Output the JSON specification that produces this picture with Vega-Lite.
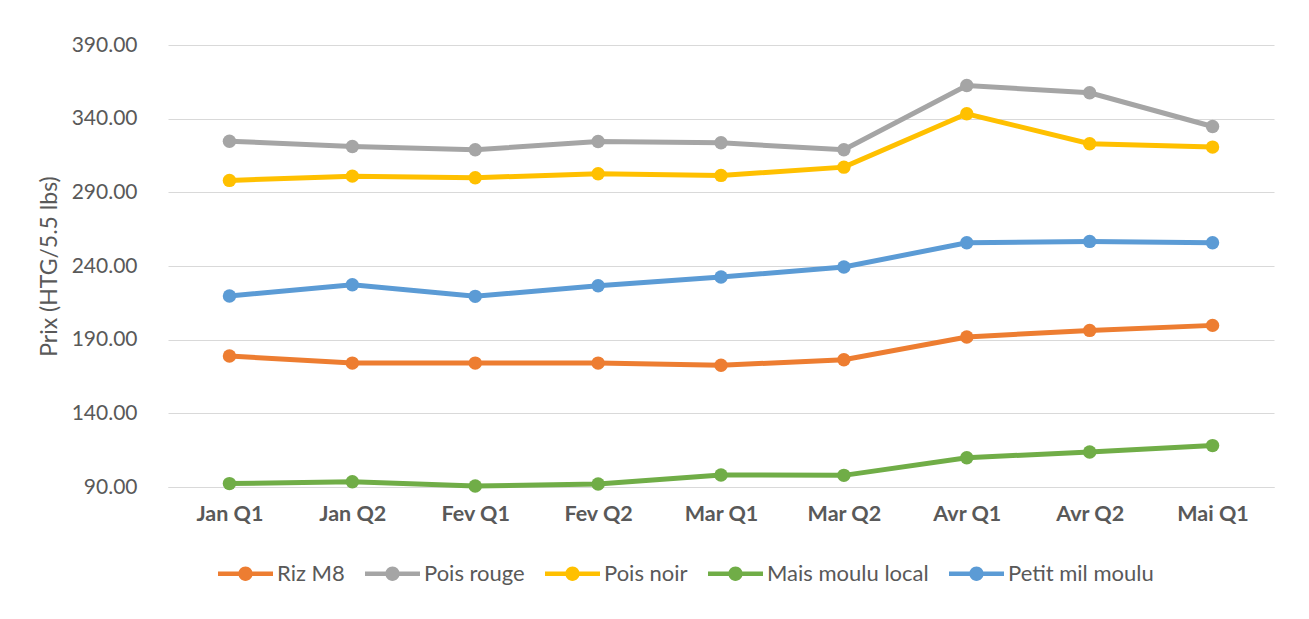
{
  "$schema": "https://vega.github.io/schema/vega-lite/v6.json",
  "width": 1106,
  "height": 442,
  "autosize": "none",
  "padding": {"left": 168, "top": 45, "right": 35, "bottom": 132},
  "background": "white",
  "config": {
    "view": {"stroke": null},
    "font": "Lato",
    "axis": {"labelFont": "Lato", "titleFont": "Lato", "labelColor": "#595959", "titleColor": "#595959"}
  },
  "data": {
    "values": [
      {"period": "Jan Q1", "produit": "Riz M8", "prix": 178.9},
      {"period": "Jan Q2", "produit": "Riz M8", "prix": 174.1},
      {"period": "Fev Q1", "produit": "Riz M8", "prix": 174.1},
      {"period": "Fev Q2", "produit": "Riz M8", "prix": 174.1},
      {"period": "Mar Q1", "produit": "Riz M8", "prix": 172.6},
      {"period": "Mar Q2", "produit": "Riz M8", "prix": 176.4},
      {"period": "Avr Q1", "produit": "Riz M8", "prix": 191.8},
      {"period": "Avr Q2", "produit": "Riz M8", "prix": 196.3},
      {"period": "Mai Q1", "produit": "Riz M8", "prix": 199.7},
      {"period": "Jan Q1", "produit": "Pois rouge", "prix": 324.7},
      {"period": "Jan Q2", "produit": "Pois rouge", "prix": 321.1},
      {"period": "Fev Q1", "produit": "Pois rouge", "prix": 318.9},
      {"period": "Fev Q2", "produit": "Pois rouge", "prix": 324.5},
      {"period": "Mar Q1", "produit": "Pois rouge", "prix": 323.6},
      {"period": "Mar Q2", "produit": "Pois rouge", "prix": 318.9},
      {"period": "Avr Q1", "produit": "Pois rouge", "prix": 362.5},
      {"period": "Avr Q2", "produit": "Pois rouge", "prix": 357.6},
      {"period": "Mai Q1", "produit": "Pois rouge", "prix": 334.7},
      {"period": "Jan Q1", "produit": "Pois noir", "prix": 298.1},
      {"period": "Jan Q2", "produit": "Pois noir", "prix": 301.0},
      {"period": "Fev Q1", "produit": "Pois noir", "prix": 299.9},
      {"period": "Fev Q2", "produit": "Pois noir", "prix": 302.6},
      {"period": "Mar Q1", "produit": "Pois noir", "prix": 301.5},
      {"period": "Mar Q2", "produit": "Pois noir", "prix": 307.1},
      {"period": "Avr Q1", "produit": "Pois noir", "prix": 343.3},
      {"period": "Avr Q2", "produit": "Pois noir", "prix": 323.0},
      {"period": "Mai Q1", "produit": "Pois noir", "prix": 320.7},
      {"period": "Jan Q1", "produit": "Mais moulu local", "prix": 92.3},
      {"period": "Jan Q2", "produit": "Mais moulu local", "prix": 93.6},
      {"period": "Fev Q1", "produit": "Mais moulu local", "prix": 90.7},
      {"period": "Fev Q2", "produit": "Mais moulu local", "prix": 92.0},
      {"period": "Mar Q1", "produit": "Mais moulu local", "prix": 98.2},
      {"period": "Mar Q2", "produit": "Mais moulu local", "prix": 97.9},
      {"period": "Avr Q1", "produit": "Mais moulu local", "prix": 109.9},
      {"period": "Avr Q2", "produit": "Mais moulu local", "prix": 113.7},
      {"period": "Mai Q1", "produit": "Mais moulu local", "prix": 118.1},
      {"period": "Jan Q1", "produit": "Petit mil moulu", "prix": 219.6},
      {"period": "Jan Q2", "produit": "Petit mil moulu", "prix": 227.3},
      {"period": "Fev Q1", "produit": "Petit mil moulu", "prix": 219.4},
      {"period": "Fev Q2", "produit": "Petit mil moulu", "prix": 226.6},
      {"period": "Mar Q1", "produit": "Petit mil moulu", "prix": 232.5},
      {"period": "Mar Q2", "produit": "Petit mil moulu", "prix": 239.3},
      {"period": "Avr Q1", "produit": "Petit mil moulu", "prix": 255.8},
      {"period": "Avr Q2", "produit": "Petit mil moulu", "prix": 256.7},
      {"period": "Mai Q1", "produit": "Petit mil moulu", "prix": 255.8}
    ]
  },
  "mark": {"type": "line", "strokeWidth": 5, "point": {"filled": true, "size": 180, "opacity": 1}},
  "encoding": {
    "x": {
      "field": "period",
      "type": "nominal",
      "sort": ["Jan Q1", "Jan Q2", "Fev Q1", "Fev Q2", "Mar Q1", "Mar Q2", "Avr Q1", "Avr Q2", "Mai Q1"],
      "scale": {"padding": 0.5},
      "axis": {
        "title": null,
        "labelAngle": 0,
        "labelFontSize": 21.5,
        "labelFontWeight": "bold",
        "labelPadding": 16,
        "ticks": false,
        "domain": true,
        "domainColor": "#D9D9D9",
        "domainWidth": 1,
        "grid": false
      }
    },
    "y": {
      "field": "prix",
      "type": "quantitative",
      "scale": {"domain": [90, 390], "nice": false, "zero": false},
      "axis": {
        "title": "Prix (HTG/5.5 lbs)",
        "titleFontSize": 23,
        "titleFontWeight": "normal",
        "titlePadding": 10,
        "values": [90, 140, 190, 240, 290, 340, 390],
        "format": ".2f",
        "labelFontSize": 21,
        "labelPadding": 31,
        "ticks": false,
        "tickSize": 0,
        "domain": false,
        "grid": true,
        "gridColor": "#D9D9D9",
        "gridWidth": 1
      }
    },
    "color": {
      "field": "produit",
      "type": "nominal",
      "scale": {
        "domain": ["Riz M8", "Pois rouge", "Pois noir", "Mais moulu local", "Petit mil moulu"],
        "range": ["#ED7D31", "#A5A5A5", "#FFC000", "#70AD47", "#5B9BD5"]
      },
      "legend": {
        "title": null,
        "orient": "none",
        "legendX": 50,
        "legendY": 501,
        "direction": "horizontal",
        "padding": 0,
        "symbolType": "M-1,-0.085L1,-0.085L1,0.085L-1,0.085Z M-0.26,0A0.26,0.26 0 1,1 0.26,0A0.26,0.26 0 1,1 -0.26,0Z",
        "symbolSize": 3025,
        "symbolStrokeWidth": 0,
        "labelFont": "Lato",
        "labelFontSize": 22,
        "labelLimit": 0,
        "labelColor": "#595959",
        "labelOffset": 4,
        "columnPadding": 20,
        "encode": {"symbols": {"update": {"fill": {"scale": "color", "field": "value"}, "opacity": {"value": 1}, "strokeWidth": {"value": 0}}}}
      }
    }
  }
}
